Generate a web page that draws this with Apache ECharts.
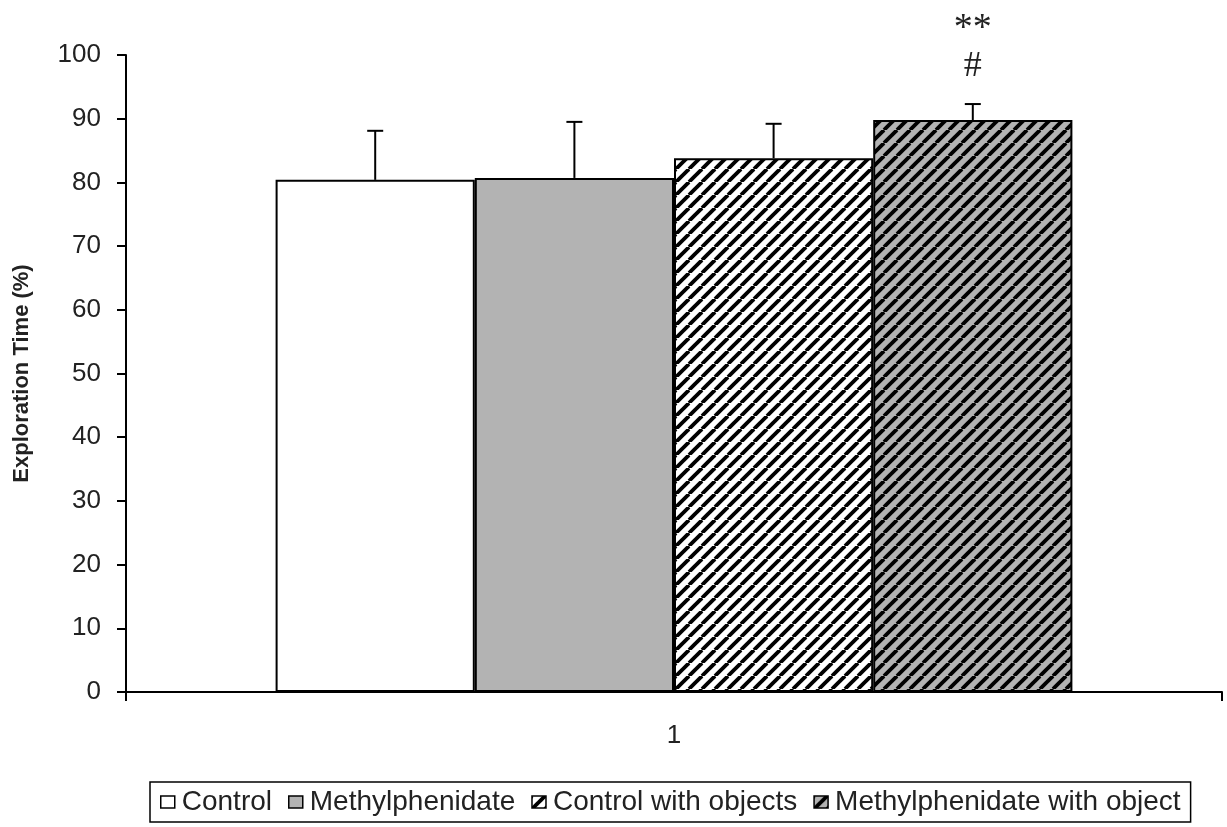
<!DOCTYPE html>
<html>
<head>
<meta charset="utf-8">
<script src="https://cdn.jsdelivr.net/npm/echarts@6/dist/echarts.min.js"></script>
<style>
  html, body { margin: 0; padding: 0; background: #fff; }
  #chart { width: 1227px; height: 827px; }
</style>
</head>
<body>
<div id="chart"></div>
<script>
// Exploration time per group, mean with upper error (SEM)
const categories = ['1'];
const groupNames = ['Control', 'Methylphenidate', 'Control with objects', 'Methylphenidate with object'];
const means = [80.4, 80.7, 83.8, 89.8];
const errors = [7.7, 8.8, 5.4, 2.5];
const starMarks = ['', '', '', '**'];
const hashMarks = ['', '', '', '#'];
const yTicks = { min: 0, max: 100, interval: 10 };

// Diagonal hatch fill ("/" stripes) drawn on a small tile
function hatch(bg) {
  const s = 13;
  const c = document.createElement('canvas');
  c.width = s; c.height = s;
  const g = c.getContext('2d');
  g.fillStyle = bg;
  g.fillRect(0, 0, s, s);
  g.strokeStyle = '#000';
  g.lineWidth = 3.8;
  for (let k = -s; k <= s; k += s) {
    g.beginPath();
    g.moveTo(k, s);
    g.lineTo(k + s, 0);
    g.stroke();
  }
  return { image: c, repeat: 'repeat' };
}

const fills = ['#ffffff', '#b3b3b3', hatch('#ffffff'), hatch('#b3b3b3')];
const GAP = 0.273; // barCategoryGap share

const chart = echarts.init(document.getElementById('chart'), null, { renderer: 'canvas' });

const barSeries = groupNames.map((name, i) => ({
  name: name,
  type: 'bar',
  data: [means[i]],
  barGap: '0%',
  barCategoryGap: (GAP * 100) + '%',
  itemStyle: { color: fills[i], borderColor: '#000', borderWidth: 2 },
  emphasis: { disabled: true },
  z: 2
}));

// Error bars and significance marks, positioned over each bar of the group
const errData = groupNames.map((_, i) => [0, means[i], errors[i], i, starMarks[i], hashMarks[i]]);

const errSeries = {
  type: 'custom',
  name: 'errors',
  data: errData,
  z: 5,
  silent: true,
  renderItem: function (params, api) {
    const idx = api.value(3);
    const mean = api.value(1);
    const err = api.value(2);
    const d = errData[params.dataIndex];
    const band = api.size([1, 0])[0];
    const bw = band * (1 - GAP) / groupNames.length;
    const base = api.coord([0, mean]);
    const x = base[0] - band * (1 - GAP) / 2 + (idx + 0.5) * bw;
    const yBar = base[1];
    const yTop = api.coord([0, mean + err])[1];
    const cap = 8;
    const style = { stroke: '#000', lineWidth: 2 };
    const children = [
      { type: 'line', shape: { x1: x, y1: yBar, x2: x, y2: yTop }, style: style },
      { type: 'line', shape: { x1: x - cap, y1: yTop, x2: x + cap, y2: yTop }, style: style }
    ];
    if (d[5]) {
      children.push({
        type: 'text',
        style: { text: d[5], x: x, y: yTop - 38, align: 'center', verticalAlign: 'middle',
                 font: '36px "Liberation Serif", "DejaVu Serif", serif', fill: '#222' }
      });
    }
    if (d[4]) {
      children.push({
        type: 'text',
        style: { text: d[4], x: x, y: yTop - 75, align: 'center', verticalAlign: 'middle',
                 font: '38px "Liberation Serif", "DejaVu Serif", serif', fill: '#222' }
      });
    }
    return { type: 'group', children: children };
  }
};

chart.setOption({
  animation: false,
  backgroundColor: '#fff',
  textStyle: { fontFamily: '"Liberation Sans", Arial, sans-serif', color: '#222' },
  grid: { left: 126, right: 5, top: 55, bottom: 135, containLabel: false, outerBoundsMode: 'none' },
  legend: {
    data: groupNames,
    left: 150,
    top: 782,
    icon: 'rect',
    itemWidth: 14,
    itemHeight: 12,
    itemGap: 16,
    padding: [6, 10, 6, 10],
    borderColor: '#000',
    borderWidth: 1.5,
    itemStyle: { borderColor: '#000', borderWidth: 1.5 },
    textStyle: { fontSize: 28, color: '#222', padding: [0, 0, 0, 2] },
    selectedMode: false
  },
  xAxis: {
    type: 'category',
    data: categories,
    axisLine: { lineStyle: { color: '#000', width: 2 } },
    axisTick: { show: true, alignWithLabel: false, length: 9, lineStyle: { color: '#000', width: 2 } },
    axisLabel: { fontSize: 26, color: '#222', margin: 31 },
    splitLine: { show: false }
  },
  yAxis: {
    type: 'value',
    min: yTicks.min,
    max: yTicks.max,
    interval: yTicks.interval,
    name: 'Exploration Time (%)',
    nameLocation: 'middle',
    nameGap: 93,
    nameTextStyle: { fontSize: 22, fontWeight: 'bold', color: '#222' },
    axisLine: { show: true, lineStyle: { color: '#000', width: 2 } },
    axisTick: { show: true, length: 9, lineStyle: { color: '#000', width: 2 } },
    axisLabel: { fontSize: 26, color: '#222', margin: 25 },
    splitLine: { show: false }
  },
  series: barSeries.concat([errSeries])
});
</script>
</body>
</html>
